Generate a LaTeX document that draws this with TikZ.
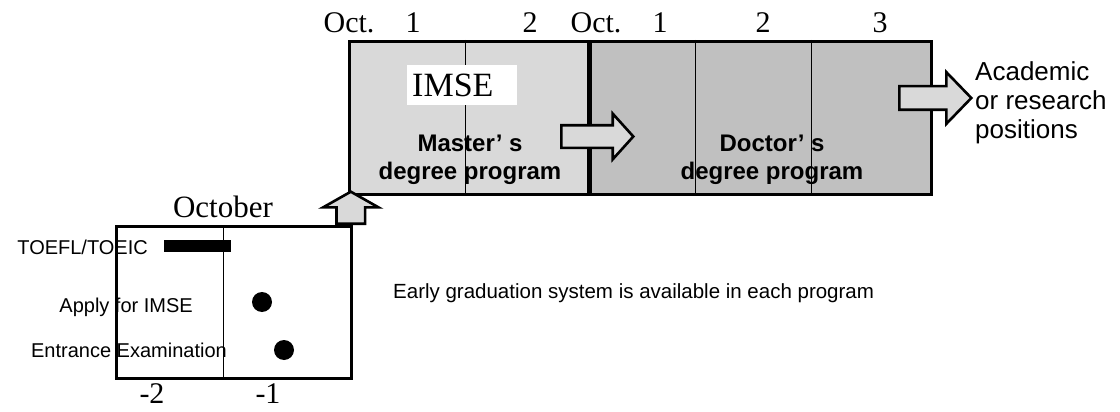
\documentclass[tikz,border=0pt]{standalone}
\usepackage{fontspec}
\newfontfamily\gothic{Liberation Sans}
\newfontfamily\mincho{Liberation Serif}
\usetikzlibrary{shapes.arrows,positioning}
\definecolor{mastergray}{HTML}{D9D9D9}
\definecolor{doctorgray}{HTML}{C0C0C0}

\begin{document}
\begin{tikzpicture}[x=1pt,y=-1pt,
    frame/.style={draw,line width=2.8pt,inner sep=0pt,anchor=north west},
    year line/.style={line width=1pt},
    year label/.style={font=\mincho\fontsize{30}{30}\selectfont,anchor=base,inner sep=0pt},
    prog text/.style={font=\gothic\bfseries\fontsize{24}{28}\selectfont,align=center,inner sep=0pt},
    event/.style={font=\gothic\fontsize{20}{20}\selectfont,anchor=east,inner sep=0pt},
    dot/.style={circle,fill=black,minimum size=20pt,inner sep=0pt},
    block arrow/.style={single arrow,draw,line width=2.6pt,fill=mastergray,
        inner xsep=0pt,anchor=tail}]

    \useasboundingbox (0,0) rectangle (1120,412);

    % degree programs
    \node[frame,fill=mastergray,minimum width=241pt,minimum height=153pt] (master) at (348,40) {};
    \node[frame,fill=doctorgray,minimum width=341pt,minimum height=153pt] (doctor) at (589,40) {};
    \foreach \x in {465,695,811}
        \draw[year line] (\x,40) -- (\x,193);
    \draw[line width=4pt] (doctor.north west) -- (doctor.south west);

    \foreach \x/\t in {349/Oct.,413/1,530/2,596/Oct.,660/1,763/2,880/3}
        \node[year label] at (\x,33) {\t};

    \node[fill=white,anchor=north west,inner xsep=5pt,inner ysep=0pt,minimum height=40pt,
          text width=100pt,align=left,font=\mincho\fontsize{34}{34}\selectfont] (imse) at (407,65) {IMSE};

    \node[prog text] (master text) at (470,160) {Master’ s\\degree program};
    \node[prog text] (doctor text) at (772,160) {Doctor’ s\\degree program};

    % before admission
    \node[event] (toefl) at (148,247) {TOEFL/TOEIC};
    \node[event] (apply) at (193,307) {Apply for IMSE};
    \node[event] (exam) at (227,350) {Entrance Examination};
    \node[frame,minimum width=235pt,minimum height=152pt] (prep) at (115,225) {};
    \draw[year line] (223,225) -- (223,377);
    \node[fill=black,minimum width=67pt,minimum height=12pt,inner sep=0pt] (toefl bar) at (197.5,246) {};
    \node[dot] (apply dot) at (262,302) {};
    \node[dot] (exam dot) at (284,350) {};

    \node[year label,font=\mincho\fontsize{31}{31}\selectfont] (october) at (223,217) {October};
    \node[year label] at (152,403) {-2};
    \node[year label] at (268,403) {-1};

    % transitions
    \node[block arrow,rotate=90,minimum height=32pt,inner ysep=13pt,
          single arrow head extend=13.5pt,single arrow tip angle=121] (enter) at ([xshift=-2pt]prep.north east) {};
    \node[block arrow,minimum height=72pt,inner ysep=10pt,
          single arrow head extend=11.5pt,single arrow tip angle=96] (advance) at (560,136.5) {};
    \node[block arrow,minimum height=72pt,inner ysep=10.5pt,
          single arrow head extend=14pt,single arrow tip angle=92] (leave) at (898,98) {};

    \node[anchor=west,align=left,inner sep=0pt,font=\gothic\fontsize{26}{29}\selectfont] (career) at (975,103)
        {Academic\\or research\\positions};
    \node[anchor=west,inner sep=0pt,font=\gothic\fontsize{20.5}{20.5}\selectfont] (early) at (393,293)
        {Early graduation system is available in each program};
\end{tikzpicture}
\end{document}
